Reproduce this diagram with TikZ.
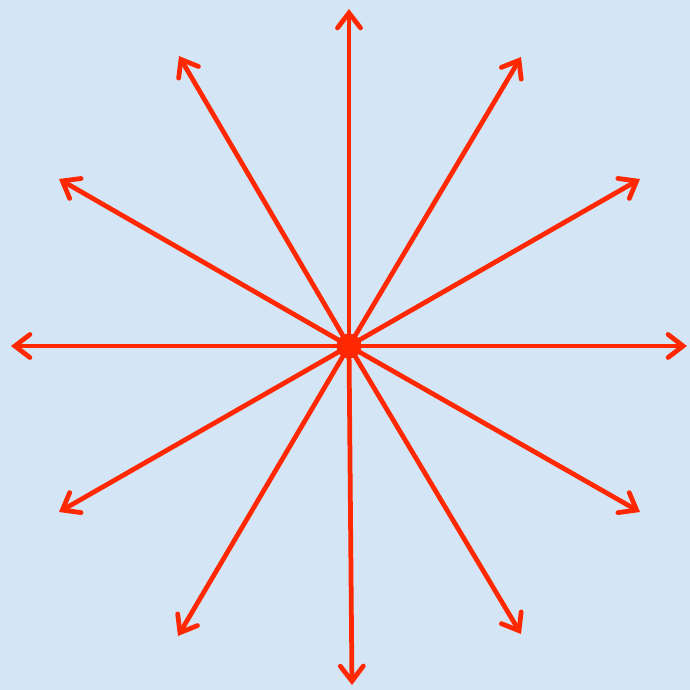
\documentclass[tikz,border=0pt]{standalone}
\usetikzlibrary{arrows.meta}
\definecolor{paleblue}{RGB}{212,229,246}
\definecolor{raycol}{RGB}{255,40,0}

\begin{document}
\begin{tikzpicture}[
  x=0.01cm,y=-0.01cm,
  ray/.style={-{Straight Barb[length=1.5mm,width=2.3mm,line cap=round]},line width=1.35pt,line cap=round,draw=raycol},
  hub/.style={circle,fill=raycol,minimum size=2.5mm,inner sep=0pt}
]
  \fill[paleblue] (0,0) rectangle (690,690);
  \useasboundingbox (0,0) rectangle (690,690);
  \coordinate (c) at (349,346);
  \coordinate (n) at (349,9);
  \coordinate (s) at (352,685);
  \coordinate (w) at (11,346);
  \coordinate (e) at (687,346);
  \coordinate (ne1) at (521,57);
  \coordinate (ne2) at (640,179);
  \coordinate (nw1) at (179,56);
  \coordinate (nw2) at (59,179);
  \coordinate (sw1) at (59,512);
  \coordinate (sw2) at (178,636);
  \coordinate (se1) at (640,512);
  \coordinate (se2) at (521,634);
  \foreach \p in {n,s,w,e,ne1,ne2,nw1,nw2,sw1,sw2,se1,se2}
    \draw[ray] (c) -- (\p);
  \node[hub] (hub) at (c) {};
\end{tikzpicture}
\end{document}
